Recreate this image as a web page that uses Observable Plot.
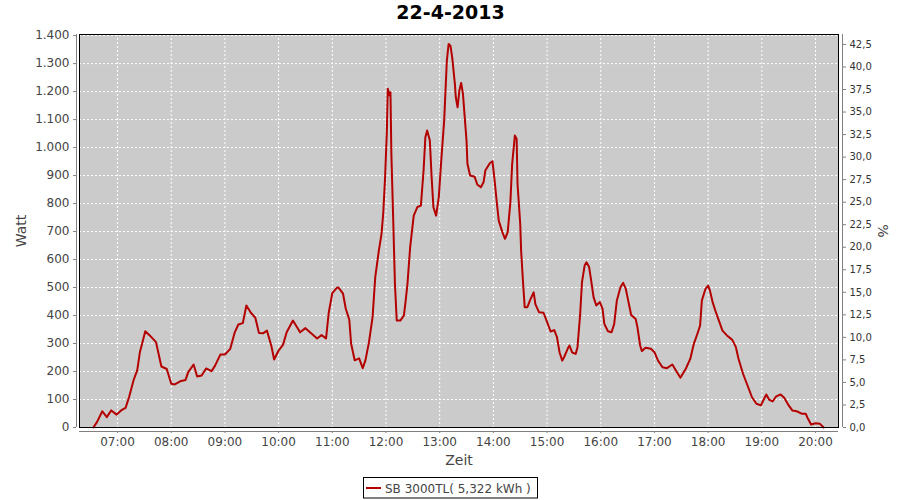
<!DOCTYPE html>
<html><head><meta charset="utf-8">
<script src="https://cdn.jsdelivr.net/npm/d3@7"></script>
<script src="https://cdn.jsdelivr.net/npm/@observablehq/plot@0.6"></script>
<style>body{margin:0;background:#fff;} #chart{width:900px;height:500px;}</style>
</head><body><div id="chart"></div>
<script>
const times = ["06:33","06:37","06:43","06:48","06:53","06:59","07:04","07:09","07:13","07:18","07:22","07:25","07:31","07:36","07:43","07:49","07:55",
"08:00","08:04","08:10","08:16","08:19","08:25","08:29","08:34","08:39","08:45","08:49","08:55",
"09:00","09:06","09:11","09:15","09:20","09:24","09:29","09:34","09:38","09:43","09:47","09:52","09:55",
"10:00","10:05","10:09","10:16","10:24","10:30","10:36","10:43","10:48","10:53","10:56",
"11:00","11:05","11:07","11:12","11:15","11:19","11:21","11:25","11:30","11:34","11:37","11:41","11:45","11:48","11:52","11:55","11:57","11:59",
"12:01","12:02","12:04","12:05","12:06","12:08","12:10","12:12","12:16","12:20","12:22","12:24","12:27","12:31","12:35","12:39","12:42","12:44","12:46","12:49","12:51","12:53","12:56","12:59",
"13:02","13:05","13:08","13:10","13:12","13:14","13:17","13:18","13:20","13:22","13:24","13:26","13:28","13:30","13:31","13:34","13:39","13:42","13:46","13:49","13:51","13:56","13:59",
"14:01","14:04","14:06","14:10","14:13","14:16","14:19","14:21","14:24","14:26","14:27","14:30","14:31","14:33","14:35","14:38","14:41","14:45","14:47","14:51","14:56","14:59",
"15:04","15:08","15:11","15:14","15:17","15:19","15:23","15:25","15:28","15:32","15:34","15:37","15:39","15:42","15:44","15:47","15:49","15:52","15:55","15:59",
"16:02","16:04","16:08","16:12","16:15","16:18","16:22","16:25","16:28","16:31","16:34","16:39","16:41","16:44","16:46","16:50","16:56",
"17:00","17:04","17:09","17:14","17:20","17:25","17:29","17:35","17:40","17:44","17:48","17:51","17:53","17:57",
"18:00","18:02","18:05","18:08","18:12","18:16","18:21","18:27","18:31","18:34","18:39","18:44","18:49","18:54","18:59",
"19:02","19:05","19:08","19:12","19:16","19:21","19:25","19:30","19:34","19:39","19:45","19:49","19:51","19:55",
"20:00","20:05","20:09"];
const watts = [0,19,58,37,61,46,61,70,110,170,204,269,344,329,305,218,209,
156,154,165,170,198,225,182,186,211,201,221,261,
261,281,340,368,373,436,410,392,338,337,346,290,243,
275,296,340,382,340,355,338,318,330,318,410,
480,499,500,478,425,385,300,240,247,212,240,305,394,537,632,692,769,894,
1061,1210,1186,1198,978,751,513,382,382,400,453,513,644,757,787,793,918,1037,1061,1025,894,787,757,823,
965,1096,1311,1370,1364,1322,1227,1180,1144,1204,1231,1192,1108,1025,942,900,896,868,858,876,918,944,951,
894,799,739,698,674,698,805,942,1043,1031,870,727,632,525,430,430,455,483,440,412,410,385,
343,348,324,268,239,251,281,293,268,263,287,406,519,579,590,573,531,465,436,448,
424,370,344,340,370,454,501,517,495,448,402,388,358,293,273,285,281,
269,239,215,212,225,198,178,210,245,299,335,364,454,495,
507,489,448,418,382,346,329,313,287,245,192,150,108,85,79,
99,118,100,93,111,118,106,79,61,58,49,49,35,11,
15,13,0];
const leftTicks = [0,100,200,300,400,500,600,700,800,900,1000,1100,1200,1300,1400];
const rightTicks = [0,2.5,5,7.5,10,12.5,15,17.5,20,22.5,25,27.5,30,32.5,35,37.5,40,42.5];
const hourTicks = ["07:00","08:00","09:00","10:00","11:00","12:00","13:00","14:00","15:00","16:00","17:00","18:00","19:00","20:00"];
const xDomain = ["06:17:30","20:25:40"];
const yMax = 1404;
const wattPerPercent = 32.2;
const titleText = "22-4-2013";
const yLabel = "Watt", xLabel = "Zeit", y2Label = "%";
const legendLabel = "SB 3000TL( 5,322 kWh )";

const parseTime = s => { const [h,m,sec=0] = s.split(":").map(Number); return new Date(Date.UTC(2013,3,22,h,m,sec)); };
const data = times.map((t,i) => ({time: parseTime(t), watt: watts[i]}));
const de = d3.formatLocale({decimal: ",", thousands: ".", grouping: [3], currency: ["", "€"]});
const fmtW = de.format(",d");
const fmtP = de.format(".1f");
const axisColor = "#808080", textColor = "#444444", lineColor = "#b40000";

const chart = Plot.plot({
  width: 900, height: 500,
  marginTop: 34, marginRight: 62, marginBottom: 73, marginLeft: 79,
  style: {fontFamily: "DejaVu Sans", background: "white", overflow: "visible"},
  x: {type: "utc", domain: xDomain.map(parseTime), label: null},
  y: {domain: [0, yMax], label: null},
  marks: [
    Plot.frame({fill: "#cbcbcb"}),
    Plot.gridY(leftTicks, {stroke: "white", strokeOpacity: 1, strokeDasharray: "2,2"}),
    Plot.gridX(hourTicks.map(parseTime), {stroke: "white", strokeOpacity: 1, strokeDasharray: "2,2"}),
    Plot.lineY(data, {x: "time", y: "watt", stroke: lineColor, strokeWidth: 2}),
    Plot.frame({stroke: "black"}),
    Plot.ruleX([parseTime(xDomain[0])], {dx: -3, stroke: axisColor}),
    Plot.ruleX([parseTime(xDomain[1])], {dx: 4, stroke: axisColor}),
    Plot.ruleY([0], {dy: 4, stroke: axisColor}),
    Plot.axisY(leftTicks, {anchor: "left", tickSize: 3, tickPadding: 4, dx: -3, tickFormat: fmtW, fontSize: 12, fill: textColor, stroke: axisColor, label: null}),
    Plot.axisY(rightTicks.map(p => p * wattPerPercent), {anchor: "right", tickSize: 3, tickPadding: 4, dx: 4, tickFormat: w => fmtP(w / wattPerPercent), fontSize: 10, fill: "#333", stroke: axisColor, label: null}),
    Plot.axisX(hourTicks.map(parseTime), {anchor: "bottom", tickSize: 2, tickPadding: 4, dy: 4, tickFormat: d3.utcFormat("%H:%M"), fontSize: 12, fill: textColor, stroke: axisColor, label: null}),
    Plot.text([titleText], {text: d => d, frameAnchor: "top", lineAnchor: "middle", textAnchor: "middle", dx: -8.5, dy: -21.7, fontSize: 19, fontWeight: "bold", fill: "black"}),
    Plot.text([yLabel], {text: d => d, frameAnchor: "left", lineAnchor: "middle", textAnchor: "middle", rotate: -90, dx: -58, fontSize: 14, fill: textColor}),
    Plot.text([xLabel], {text: d => d, frameAnchor: "bottom", lineAnchor: "middle", textAnchor: "middle", dy: 33, fontSize: 14, fill: textColor}),
    Plot.text([y2Label], {text: d => d, frameAnchor: "right", lineAnchor: "middle", textAnchor: "middle", rotate: 90, dx: 44, fontSize: 14, fill: textColor})
  ]
});

const svg = d3.select(chart);
const lg = svg.append("g").attr("font-family", "DejaVu Sans").attr("text-anchor", "start");
lg.append("rect").attr("x", 363.5).attr("y", 477.5).attr("width", 174).attr("height", 20.5)
  .attr("fill", "white").attr("stroke", "black");
lg.append("line").attr("x1", 366).attr("x2", 381).attr("y1", 488).attr("y2", 488)
  .attr("stroke", lineColor).attr("stroke-width", 2);
lg.append("text").attr("x", 385).attr("y", 492.5).attr("font-size", 12).attr("fill", textColor)
  .attr("text-anchor", "start").text(legendLabel);

document.getElementById("chart").appendChild(chart);
</script>
</body></html>
